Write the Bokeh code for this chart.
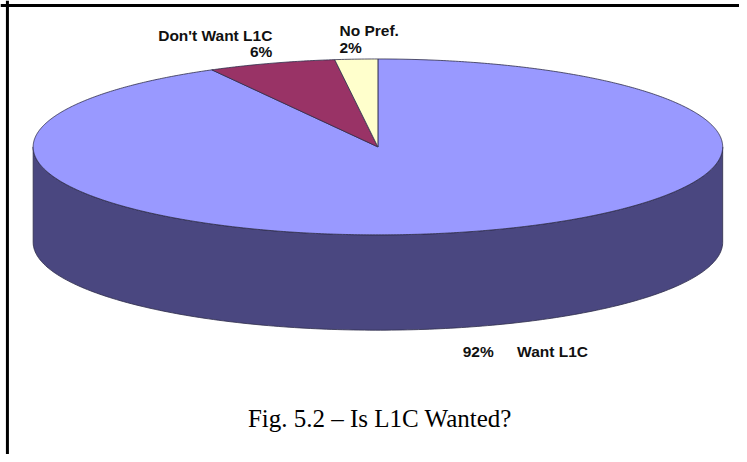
import numpy as np
from bokeh.plotting import figure
from bokeh.models import ColumnDataSource, Range1d, Span
from bokeh.core.properties import value
from bokeh.embed import file_html
from bokeh.resources import INLINE

# ---------------- data ----------------
categories = ["Want L1C", "Don't Want L1C", "No Pref."]
shares = [92, 6, 2]
top_colors = ["#9999ff", "#993366", "#ffffcc"]
side_colors = ["#4a4780", "#4d1a33", "#80805f"]
title_text = "Fig. 5.2 \u2013 Is L1C Wanted?"

# ---------------- layout (pixel space of the picture) ----------------
CX, CY, RX, RY, DEPTH = 381.5, 149.0, 348.5, 89.5, 97.0
START = 90.0  # degrees, slices go clockwise
EDGE = "#2e2d4a"

p = figure(width=739, height=454, x_range=Range1d(0, 747), y_range=Range1d(462, 0),
           output_backend="svg", toolbar_location=None, min_border=0,
           x_axis_location=None, y_axis_location=None)
p.grid.visible = False
p.outline_line_color = None
p.background_fill_color = "white"
p.border_fill_color = "white"

fr = np.array(shares, dtype=float) / sum(shares)
ends = START - np.cumsum(fr) * 360.0
starts = np.concatenate([[START], ends[:-1]])

def ell(t_deg, dy=0.0):
    t = np.radians(t_deg)
    return CX + RX * np.cos(t), CY - RY * np.sin(t) + dy

# side walls (front half only: angles where sin < 0)
sx, sy, sc = [], [], []
for a0, a1, col in zip(starts, ends, side_colors):
    lo, hi = min(a0, a1), max(a0, a1)
    for k in (-1, 0, 1):
        flo, fhi = -180 + 360 * k, 0 + 360 * k
        l, h = max(lo, flo), min(hi, fhi)
        if h > l:
            t = np.linspace(l, h, 200)
            x1, y1 = ell(t)
            x2, y2 = ell(t[::-1], DEPTH)
            sx.append(list(np.concatenate([x1, x2])))
            sy.append(list(np.concatenate([y1, y2])))
            sc.append(col)
p.patches(xs="xs", ys="ys", fill_color="c", line_color=EDGE, line_width=0.8,
          source=ColumnDataSource(dict(xs=sx, ys=sy, c=sc)))

# top faces
tx, ty = [], []
for a0, a1 in zip(starts, ends):
    n = max(int(abs(a1 - a0)) * 2, 10)
    t = np.linspace(a0, a1, n)
    x, y = ell(t)
    tx.append([CX] + list(x))
    ty.append([CY] + list(y))
p.patches(xs="xs", ys="ys", fill_color="c", line_color=EDGE, line_width=0.8,
          source=ColumnDataSource(dict(xs=tx, ys=ty, c=top_colors)))

# ---------------- labels ----------------
mids = (starts + ends) / 2.0
mx, my = ell(mids)
front = np.sin(np.radians(mids)) < 0
my = np.where(front, my + DEPTH, my)

name_dx = [54, 1, -17]
name_dy = [25, -28, -29]
name_al = ["left", "right", "left"]
pct_dx = [-1, 1, -17]
pct_dy = [25, -12, -12]
pct_al = ["left", "right", "left"]

pct_txt = [f"{s}%" for s in shares]
font = value("Liberation Sans")
p.text(x=list(mx + np.array(name_dx)), y=list(my + np.array(name_dy)), text=categories,
       text_font=font, text_font_style="bold", text_font_size="15.5px",
       text_align=name_al, text_baseline="alphabetic", text_color="#111111")
p.text(x=list(mx + np.array(pct_dx)), y=list(my + np.array(pct_dy)), text=pct_txt,
       text_font=font, text_font_style="bold", text_font_size="15.5px",
       text_align=pct_al, text_baseline="alphabetic", text_color="#111111")

# caption
p.text(x=[383.5], y=[425], text=[title_text], text_font=value("Liberation Serif"),
       text_font_size="25px", text_align="center", text_baseline="alphabetic",
       text_color="#000000")

# frame (left and top edges visible in the reference)
p.add_layout(Span(location=7, dimension="height", line_color="black", line_width=3))
p.add_layout(Span(location=5, dimension="width", line_color="black", line_width=3))

open("out.html", "w").write(file_html(p, INLINE))
